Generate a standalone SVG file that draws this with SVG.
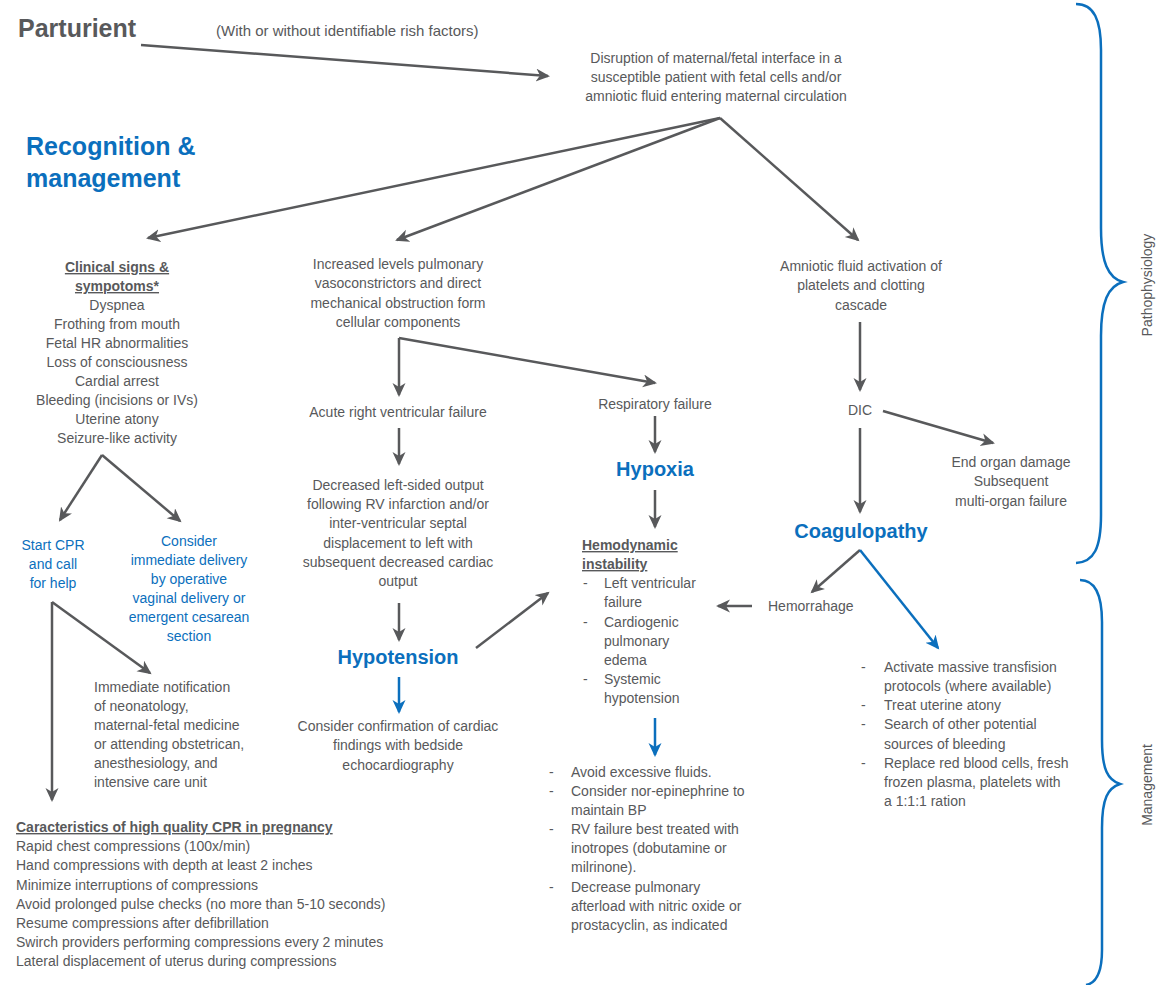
<svg xmlns="http://www.w3.org/2000/svg" width="1160" height="985" viewBox="0 0 1160 985">
<style>
text{font-family:"Liberation Sans",Arial,sans-serif;font-size:14px;fill:#58595b}
.c{text-anchor:middle}
.b{font-weight:bold}
.u{text-decoration:underline}
.blue{fill:#0b6fbd}
.big{font-size:20px;font-weight:bold;fill:#0b6fbd}
.ttl{font-size:25px;font-weight:bold}
.g{stroke:#58595b;stroke-width:2.5;fill:none;marker-end:url(#ag)}
.bl{stroke:#0b6fbd;stroke-width:2.5;fill:none;marker-end:url(#ab)}
.brace{stroke:#0b6fbd;stroke-width:2.5;fill:none}
</style>
<defs>
<marker id="ag" markerUnits="userSpaceOnUse" markerWidth="16" markerHeight="14" refX="12" refY="6.5" orient="auto"><path d="M0,0 L14,6.5 L0,13 L4,6.5 z" fill="#58595b"/></marker>
<marker id="ab" markerUnits="userSpaceOnUse" markerWidth="16" markerHeight="14" refX="12" refY="6.5" orient="auto"><path d="M0,0 L14,6.5 L0,13 L4,6.5 z" fill="#0b6fbd"/></marker>
</defs>
<rect width="1160" height="985" fill="#ffffff"/>

<g id="connectors">
<path class="g" d="M141,45 L548,76"/>
<path class="g" d="M720,118 L148,238"/>
<path class="g" d="M720,118 L397,240"/>
<path class="g" d="M720,118 L858,240"/>
<path class="g" d="M102,455 L60,520"/>
<path class="g" d="M102,455 L180,521"/>
<path class="g" d="M52,602 L52,800"/>
<path class="g" d="M52,602 L150,673"/>
<path class="g" d="M399,338 L399,395"/>
<path class="g" d="M399,338 L655,383"/>
<path class="g" d="M399,428 L399,464"/>
<path class="g" d="M399,603 L399,640"/>
<path class="g" d="M476,648 L548,593"/>
<path class="g" d="M655,416 L655,452"/>
<path class="g" d="M655,490 L655,527"/>
<path class="g" d="M860,322 L860,390"/>
<path class="g" d="M860,428 L860,512"/>
<path class="g" d="M883,411 L993,443"/>
<path class="g" d="M860,550 L812,592"/>
<path class="g" d="M752,606 L718,606"/>
<path class="bl" d="M399,677 L399,712"/>
<path class="bl" d="M655,718 L655,755"/>
<path class="bl" d="M860,550 L938,648"/>
</g>

<g id="braces">
<path class="brace" d="M1076,4 C1094,4 1101,20 1101,50 L1101,228 C1101,262 1108,278 1123,282 C1108,286 1101,302 1101,336 L1101,515 C1101,548 1094,562 1076,563"/>
<path class="brace" d="M1080,580 C1096,580 1102,596 1102,622 L1102,740 C1102,770 1108,780 1120,784 C1108,788 1102,798 1102,828 L1102,950 C1102,972 1097,983 1086,985"/>
<text class="c" transform="translate(1152,285) rotate(-90)">Pathophysiology</text>
<text class="c" transform="translate(1152,785) rotate(-90)">Management</text>
</g>

<g id="parturient">
<text class="ttl" x="18" y="37">Parturient</text>
<text x="216" y="36" style="font-size:15px">(With or without identifiable rish factors)</text>
</g>

<g id="recognition">
<text class="ttl blue" x="26" y="155">Recognition &amp;</text>
<text class="ttl blue" x="26" y="187">management</text>
</g>

<g id="disruption">
<text class="c" x="716" y="63">Disruption of maternal/fetal interface in a</text>
<text class="c" x="716" y="82">susceptible patient with fetal cells and/or</text>
<text class="c" x="716" y="101">amniotic fluid entering maternal circulation</text>
</g>

<g id="clinical">
<text class="c b u" x="117" y="272">Clinical signs &amp;</text>
<text class="c b u" x="117" y="291">sympotoms*</text>
<text class="c" x="117" y="310">Dyspnea</text>
<text class="c" x="117" y="329">Frothing from mouth</text>
<text class="c" x="117" y="348">Fetal HR abnormalities</text>
<text class="c" x="117" y="367">Loss of consciousness</text>
<text class="c" x="117" y="386">Cardial arrest</text>
<text class="c" x="117" y="405">Bleeding (incisions or IVs)</text>
<text class="c" x="117" y="424">Uterine atony</text>
<text class="c" x="117" y="443">Seizure-like activity</text>
</g>

<g id="startcpr">
<text class="c blue" x="53" y="550">Start CPR</text>
<text class="c blue" x="53" y="569">and call</text>
<text class="c blue" x="53" y="588">for help</text>
</g>

<g id="delivery">
<text class="c blue" x="189" y="546">Consider</text>
<text class="c blue" x="189" y="565">immediate delivery</text>
<text class="c blue" x="189" y="584">by operative</text>
<text class="c blue" x="189" y="603">vaginal delivery or</text>
<text class="c blue" x="189" y="622">emergent cesarean</text>
<text class="c blue" x="189" y="641">section</text>
</g>

<g id="notification">
<text x="94" y="692">Immediate notification</text>
<text x="94" y="711">of neonatology,</text>
<text x="94" y="730">maternal-fetal medicine</text>
<text x="94" y="749">or attending obstetrican,</text>
<text x="94" y="768">anesthesiology, and</text>
<text x="94" y="787">intensive care unit</text>
</g>

<g id="cpr">
<text class="b u" x="16" y="832">Caracteristics of high quality CPR in pregnancy</text>
<text x="16" y="851">Rapid chest compressions (100x/min)</text>
<text x="16" y="870">Hand compressions with depth at least 2 inches</text>
<text x="16" y="890">Minimize interruptions of compressions</text>
<text x="16" y="909">Avoid prolonged pulse checks (no more than 5-10 seconds)</text>
<text x="16" y="928">Resume compressions after defibrillation</text>
<text x="16" y="947">Swirch providers performing compressions every 2 minutes</text>
<text x="16" y="966">Lateral displacement of uterus during compressions</text>
</g>

<g id="increased">
<text class="c" x="398" y="269">Increased levels pulmonary</text>
<text class="c" x="398" y="288">vasoconstrictors and direct</text>
<text class="c" x="398" y="308">mechanical obstruction form</text>
<text class="c" x="398" y="327">cellular components</text>
</g>

<g id="acute">
<text class="c" x="398" y="417">Acute right ventricular failure</text>
</g>

<g id="decreased">
<text class="c" x="398" y="490">Decreased left-sided output</text>
<text class="c" x="398" y="509">following RV infarction and/or</text>
<text class="c" x="398" y="528">inter-ventricular septal</text>
<text class="c" x="398" y="548">displacement to left with</text>
<text class="c" x="398" y="567">subsequent decreased cardiac</text>
<text class="c" x="398" y="586">output</text>
</g>

<g id="hypotension">
<text class="c big" x="398" y="664">Hypotension</text>
</g>

<g id="echo">
<text class="c" x="398" y="731">Consider confirmation of cardiac</text>
<text class="c" x="398" y="750">findings with bedside</text>
<text class="c" x="398" y="770">echocardiography</text>
</g>

<g id="respiratory">
<text class="c" x="655" y="409">Respiratory failure</text>
</g>

<g id="hypoxia">
<text class="c big" x="655" y="476">Hypoxia</text>
</g>

<g id="hemodynamic">
<text class="b u" x="582" y="550">Hemodynamic</text>
<text class="b u" x="582" y="569">instability</text>
<text x="583" y="588">-</text><text x="604" y="588">Left ventricular</text>
<text x="604" y="607">failure</text>
<text x="583" y="627">-</text><text x="604" y="627">Cardiogenic</text>
<text x="604" y="646">pulmonary</text>
<text x="604" y="665">edema</text>
<text x="583" y="684">-</text><text x="604" y="684">Systemic</text>
<text x="604" y="703">hypotension</text>
</g>

<g id="fluids">
<text x="549" y="777">-</text><text x="571" y="777">Avoid excessive fluids.</text>
<text x="549" y="796">-</text><text x="571" y="796">Consider nor-epinephrine to</text>
<text x="571" y="815">maintain BP</text>
<text x="549" y="834">-</text><text x="571" y="834">RV failure best treated with</text>
<text x="571" y="853">inotropes (dobutamine or</text>
<text x="571" y="872">milrinone).</text>
<text x="549" y="892">-</text><text x="571" y="892">Decrease pulmonary</text>
<text x="571" y="911">afterload with nitric oxide or</text>
<text x="571" y="930">prostacyclin, as indicated</text>
</g>

<g id="amniotic">
<text class="c" x="861" y="271">Amniotic fluid activation of</text>
<text class="c" x="861" y="290">platelets and clotting</text>
<text class="c" x="861" y="310">cascade</text>
</g>

<g id="dic">
<text class="c" x="860" y="415">DIC</text>
</g>

<g id="endorgan">
<text class="c" x="1011" y="467">End organ damage</text>
<text class="c" x="1011" y="486">Subsequent</text>
<text class="c" x="1011" y="506">multi-organ failure</text>
</g>

<g id="coagulopathy">
<text class="c big" x="861" y="538">Coagulopathy</text>
</g>

<g id="hemorrhage">
<text x="768" y="611">Hemorrahage</text>
</g>

<g id="transfusion">
<text x="861" y="672">-</text><text x="884" y="672">Activate massive transfision</text>
<text x="884" y="691">protocols (where available)</text>
<text x="861" y="710">-</text><text x="884" y="710">Treat uterine atony</text>
<text x="861" y="729">-</text><text x="884" y="729">Search of other potential</text>
<text x="884" y="749">sources of bleeding</text>
<text x="861" y="768">-</text><text x="884" y="768">Replace red blood cells, fresh</text>
<text x="884" y="787">frozen plasma, platelets with</text>
<text x="884" y="806">a 1:1:1 ration</text>
</g>
</svg>
